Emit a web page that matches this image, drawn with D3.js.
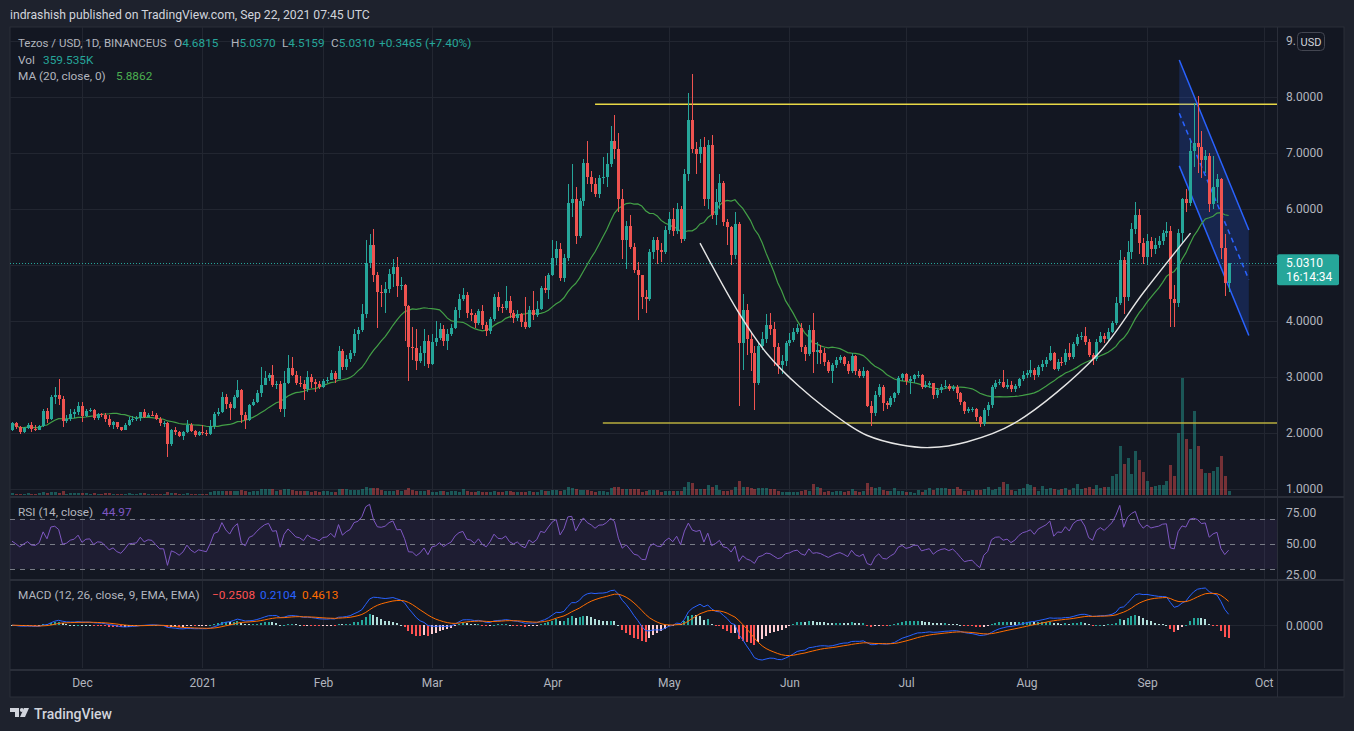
<!DOCTYPE html>
<html><head><meta charset="utf-8">
<script src="https://cdn.jsdelivr.net/npm/d3@7"></script>
<style>
html,body{margin:0;padding:0;background:#1e222d;}
svg{display:block;font-family:Roboto,"Noto Sans",sans-serif;}
</style></head><body><svg id="c" width="1354" height="731"></svg>
<script>
// ---------------- DATA ----------------
const startDate = "2020-11-13"; // first daily candle
const opens = [
2.06,2.17,2.10,2.02,2.09,2.15,2.07,2.06,2.12,2.40,
2.25,2.64,2.67,2.60,2.22,2.25,2.34,2.37,2.49,2.31,
2.40,2.41,2.27,2.34,2.33,2.25,2.15,2.19,2.10,2.06,
2.14,2.24,2.25,2.26,2.37,2.29,2.33,2.32,2.25,2.18,
2.18,1.81,2.06,2.02,1.95,2.01,2.14,2.03,1.97,2.02,
2.00,1.98,2.12,2.34,2.38,2.65,2.52,2.44,2.65,2.77,
2.32,2.24,2.50,2.56,2.72,2.86,2.98,3.04,2.86,2.88,
2.42,2.90,3.16,3.04,2.90,2.87,2.78,3.00,2.91,2.88,
2.82,2.93,2.95,3.07,2.97,3.47,3.17,3.32,3.42,3.77,
3.84,4.12,5.03,5.36,4.82,4.52,4.50,4.58,4.84,4.97,
4.63,4.65,4.26,3.54,3.52,3.29,3.42,3.65,3.24,3.63,
3.69,3.85,3.65,3.77,3.88,4.20,4.39,4.46,4.14,4.10,
3.96,4.17,3.93,3.82,4.04,4.42,4.25,4.23,4.36,4.14,
4.05,4.13,3.98,3.90,4.20,4.10,4.22,4.59,4.55,4.83,
5.13,5.29,4.76,5.13,6.11,6.17,5.51,6.15,6.82,6.57,
6.45,6.27,6.56,6.58,6.80,7.22,7.08,6.18,5.45,5.70,
5.33,4.91,4.82,4.43,4.40,5.23,5.45,5.26,5.24,5.63,
5.83,5.61,6.00,5.46,6.62,7.59,7.08,6.98,7.10,6.17,
7.14,5.89,6.12,6.47,5.77,5.67,5.18,5.74,3.60,4.20,
3.67,3.42,2.90,3.55,3.67,3.92,3.85,3.54,3.21,3.29,
3.60,3.66,3.81,3.87,3.54,3.41,3.84,3.45,3.49,3.42,
3.26,3.11,3.21,3.30,3.35,3.24,3.10,3.38,3.10,3.01,
3.10,2.48,2.36,2.68,2.83,2.53,2.50,2.62,2.71,2.98,
3.05,2.92,2.96,3.04,3.04,2.82,2.86,2.89,2.68,2.77,
2.82,2.84,2.78,2.82,2.71,2.56,2.40,2.42,2.43,2.28,
2.16,2.41,2.50,2.82,2.90,2.91,2.83,2.86,2.78,2.84,
2.96,3.04,3.07,3.12,3.04,3.18,3.24,3.30,3.42,3.15,
3.27,3.26,3.43,3.35,3.59,3.71,3.74,3.63,3.39,3.33,
3.63,3.73,3.67,3.81,3.96,4.32,5.09,4.42,5.24,5.64,
5.89,5.40,5.15,5.42,5.28,5.36,5.42,5.57,5.60,4.40,
4.33,5.57,6.17,6.10,7.04,7.17,7.10,6.88,6.95,6.09,
6.39,6.53,5.30,4.6815];
const highs = [
2.20,2.19,2.12,2.11,2.17,2.20,2.14,2.14,2.42,2.45,
2.68,2.83,2.97,2.66,2.33,2.43,2.42,2.55,2.56,2.42,
2.44,2.42,2.36,2.35,2.35,2.33,2.21,2.20,2.11,2.17,
2.28,2.30,2.30,2.38,2.42,2.36,2.40,2.35,2.28,2.21,
2.20,2.08,2.10,2.04,2.03,2.24,2.18,2.05,2.04,2.14,
2.05,2.24,2.38,2.44,2.74,2.70,2.55,2.68,2.95,2.78,
2.38,2.52,2.60,2.76,3.17,3.10,3.08,3.21,2.92,2.92,
3.10,3.39,3.36,3.10,3.02,2.95,3.10,3.06,2.96,2.92,
2.97,3.00,3.12,3.10,3.55,3.50,3.40,3.48,3.85,3.90,
4.31,5.45,5.56,5.64,4.88,4.65,4.70,4.92,5.10,5.15,
4.79,4.66,4.28,3.90,3.85,3.55,3.86,3.75,3.76,4.00,
3.96,3.92,3.85,3.95,4.25,4.49,4.59,4.51,4.22,4.15,
4.22,4.28,3.98,4.08,4.49,4.52,4.30,4.62,4.45,4.20,
4.20,4.15,4.42,4.26,4.53,4.35,4.62,4.80,4.86,5.45,
5.43,5.40,5.20,6.45,6.81,6.40,6.20,6.89,7.21,6.68,
6.55,6.60,6.92,7.00,7.48,7.68,7.35,6.35,5.78,5.90,
5.40,5.05,4.82,4.55,5.28,5.50,5.50,5.40,5.70,5.95,
6.02,6.10,6.05,6.72,8.07,8.41,7.20,7.25,7.28,7.24,
7.32,6.35,6.63,6.50,5.82,5.70,5.95,5.76,4.48,4.30,
3.80,3.55,3.62,3.80,4.12,4.15,3.98,3.60,3.40,3.65,
3.78,3.88,3.95,3.96,3.58,3.93,4.14,3.62,3.58,3.52,
3.30,3.25,3.36,3.40,3.38,3.28,3.42,3.40,3.14,3.18,
3.12,2.58,2.75,2.88,2.85,2.58,2.66,2.74,3.02,3.07,
3.08,3.02,3.06,3.10,3.05,2.92,2.92,2.90,2.80,2.88,
2.94,2.88,2.86,2.85,2.73,2.58,2.46,2.46,2.45,2.30,
2.45,2.55,2.85,2.95,2.96,3.13,2.96,2.92,2.88,2.99,
3.10,3.12,3.30,3.16,3.22,3.30,3.36,3.55,3.45,3.32,
3.35,3.50,3.60,3.63,3.76,3.80,3.90,3.68,3.42,3.67,
3.80,3.78,3.88,4.00,4.42,5.27,5.15,5.42,5.75,6.13,
6.00,5.48,5.55,5.50,5.48,5.52,5.62,5.76,5.70,4.65,
5.65,6.20,6.35,7.23,7.89,8.02,7.40,7.05,7.00,6.95,
6.62,6.55,5.55,5.0370];
const lows = [
2.04,2.07,1.98,2.00,2.07,2.01,2.03,2.05,2.10,2.18,
2.24,2.52,2.50,2.11,2.18,2.22,2.27,2.33,2.20,2.29,
2.37,2.23,2.24,2.28,2.20,2.10,2.08,2.07,2.03,2.05,
2.13,2.20,2.21,2.22,2.27,2.28,2.30,2.23,2.13,2.11,
1.57,1.77,1.97,1.92,1.88,2.00,2.01,1.93,1.94,1.97,
1.94,1.96,2.08,2.30,2.36,2.43,2.24,2.42,2.62,2.18,
2.08,2.22,2.48,2.54,2.64,2.85,2.93,2.82,2.78,2.38,
2.28,2.88,3.02,2.86,2.82,2.59,2.74,2.80,2.74,2.78,
2.80,2.90,2.94,2.90,2.96,3.13,3.12,3.26,3.38,3.66,
3.80,4.05,4.95,4.70,3.87,4.25,4.15,4.50,4.60,4.42,
4.55,3.65,2.92,3.30,3.12,3.25,3.19,3.16,3.22,3.55,
3.66,3.55,3.48,3.74,3.86,4.05,4.35,4.05,4.00,3.88,
3.93,3.85,3.74,3.76,4.00,4.18,4.14,4.20,4.06,3.96,
4.00,3.90,3.85,3.87,4.02,4.08,4.20,4.50,4.40,4.80,
5.00,4.72,4.70,5.08,5.85,5.38,5.48,6.05,6.45,6.30,
6.22,6.20,6.45,6.40,6.75,6.90,5.95,5.10,4.92,5.28,
4.85,4.02,4.22,4.15,4.35,5.10,5.02,5.05,5.20,5.55,
5.52,5.55,5.40,5.42,6.50,7.00,6.62,6.82,6.05,6.00,
5.82,5.72,6.00,5.70,5.35,5.00,5.10,2.49,3.13,3.40,
3.10,2.41,2.85,3.48,3.60,3.75,3.20,3.05,3.05,3.20,
3.55,3.62,3.76,3.45,3.28,3.38,3.07,3.24,3.24,3.20,
3.08,2.90,3.16,3.25,3.20,3.06,3.08,3.03,2.98,2.98,
2.46,2.12,2.30,2.65,2.40,2.42,2.46,2.55,2.68,2.92,
2.85,2.70,2.90,2.98,2.78,2.80,2.80,2.60,2.62,2.72,
2.78,2.75,2.75,2.60,2.50,2.34,2.36,2.38,2.22,2.10,
2.12,2.30,2.45,2.78,2.85,2.80,2.78,2.74,2.74,2.80,
2.92,2.98,3.00,2.95,3.00,3.10,3.18,3.28,3.12,3.10,
3.20,3.22,3.30,3.33,3.55,3.66,3.58,3.35,3.22,3.28,
3.60,3.60,3.64,3.78,3.92,4.28,4.12,4.35,5.10,5.55,
5.20,5.02,5.00,5.15,5.20,5.30,5.35,5.50,3.90,3.90,
4.25,5.40,5.95,6.05,6.75,6.65,6.55,6.65,5.95,6.00,
6.10,5.10,4.45,4.5159];
const closes = [
2.17,2.10,2.02,2.09,2.15,2.07,2.06,2.12,2.40,2.25,
2.64,2.67,2.60,2.22,2.25,2.34,2.37,2.49,2.31,2.40,
2.41,2.27,2.34,2.33,2.25,2.15,2.19,2.10,2.06,2.14,
2.24,2.25,2.26,2.37,2.29,2.33,2.32,2.25,2.18,2.18,
1.81,2.06,2.02,1.95,2.01,2.14,2.03,1.97,2.02,2.00,
1.98,2.12,2.34,2.38,2.65,2.52,2.44,2.65,2.77,2.32,
2.24,2.50,2.56,2.72,2.86,2.98,3.04,2.86,2.88,2.42,
2.90,3.16,3.04,2.90,2.87,2.78,3.00,2.91,2.88,2.82,
2.93,2.95,3.07,2.97,3.47,3.17,3.32,3.42,3.77,3.84,
4.12,5.03,5.36,4.82,4.52,4.50,4.58,4.84,4.97,4.63,
4.65,4.26,3.54,3.52,3.29,3.42,3.65,3.24,3.63,3.69,
3.85,3.65,3.77,3.88,4.20,4.39,4.46,4.14,4.10,3.96,
4.17,3.93,3.82,4.04,4.42,4.25,4.23,4.36,4.14,4.05,
4.13,3.98,3.90,4.20,4.10,4.22,4.59,4.55,4.83,5.13,
5.29,4.76,5.13,6.11,6.17,5.51,6.15,6.82,6.57,6.45,
6.27,6.56,6.58,6.80,7.22,7.08,6.18,5.45,5.70,5.33,
4.91,4.82,4.43,4.40,5.23,5.45,5.26,5.24,5.63,5.83,
5.61,6.00,5.46,6.62,7.59,7.08,6.98,7.10,6.17,7.14,
5.89,6.12,6.47,5.77,5.67,5.18,5.74,3.60,4.20,3.67,
3.42,2.90,3.55,3.67,3.92,3.85,3.54,3.21,3.29,3.60,
3.66,3.81,3.87,3.54,3.41,3.84,3.45,3.49,3.42,3.26,
3.11,3.21,3.30,3.35,3.24,3.10,3.38,3.10,3.01,3.10,
2.48,2.36,2.68,2.83,2.53,2.50,2.62,2.71,2.98,3.05,
2.92,2.96,3.04,3.04,2.82,2.86,2.89,2.68,2.77,2.82,
2.84,2.78,2.82,2.71,2.56,2.40,2.42,2.43,2.28,2.16,
2.41,2.50,2.82,2.90,2.91,2.83,2.86,2.78,2.84,2.96,
3.04,3.07,3.12,3.04,3.18,3.24,3.30,3.42,3.15,3.27,
3.26,3.43,3.35,3.59,3.71,3.74,3.63,3.39,3.33,3.63,
3.73,3.67,3.81,3.96,4.32,5.09,4.42,5.24,5.64,5.89,
5.40,5.15,5.42,5.28,5.36,5.42,5.57,5.60,4.40,4.33,
5.57,6.17,6.10,7.04,7.17,7.10,6.88,6.95,6.09,6.39,
6.53,5.30,4.68,5.031];
// volume, thousands
const volumes = [
180,90,90,90,180,90,90,180,270,180,
270,270,180,360,90,180,180,180,180,180,
90,180,90,90,180,180,90,90,90,90,
180,90,90,180,180,90,90,90,90,90,
270,180,180,90,90,180,90,90,90,90,
90,270,360,360,360,360,360,360,360,450,
360,270,360,360,540,540,540,540,360,450,
540,540,450,360,360,360,360,270,360,270,
360,360,270,270,540,540,540,450,450,450,
540,720,630,630,630,450,360,360,360,450,
360,450,630,450,360,360,360,450,270,270,
360,360,270,360,360,270,540,360,270,270,
360,270,270,270,360,270,270,360,360,270,
270,270,270,360,270,270,450,360,360,450,
450,360,450,720,630,540,450,450,450,360,
270,360,360,270,630,720,720,540,540,540,
540,540,270,360,450,450,450,270,360,360,
360,360,360,720,1170,1080,540,540,540,900,
720,900,450,360,360,450,720,1260,720,720,
630,540,630,630,630,540,540,360,270,270,
270,270,270,360,450,360,990,720,630,270,
360,270,360,360,270,360,540,360,270,360,
1080,720,630,720,450,360,360,630,360,360,
270,270,180,450,270,450,630,450,630,630,
630,540,540,720,540,360,360,450,450,450,
540,720,450,540,720,1170,990,450,360,540,
630,990,900,720,360,810,540,630,540,450,
540,630,450,630,990,540,630,720,540,900,
630,720,720,1710,1890,4410,2790,3330,1890,3960,
3150,2070,1260,720,810,900,900,1260,2700,1710,
5580,10530,5040,4140,7560,4410,2340,1980,1980,2160,
2520,3510,1710,360];
const priceTicks = [1,2,3,4,5,6,7,8];
const rsiTicks = [25,50,75];
const macdTicks = [0];
const monthTicks = ["2020-12-01","2021-01-01","2021-02-01","2021-03-01","2021-04-01","2021-05-01","2021-06-01","2021-07-01","2021-08-01","2021-09-01","2021-10-01"];
const monthLabels = ["Dec","2021","Feb","Mar","Apr","May","Jun","Jul","Aug","Sep","Oct"];
// drawings: [day index from start, price]
const cupCurve = [[177,5.39],[187.3,4.11],[194.2,3.42],[202.7,2.82],[214.7,2.17],[219.9,1.96],[228.5,1.79],[236.2,1.74],[245.6,1.84],[258,2.18],[279.1,3.39],[291,4.50],[303.2,5.57]];
const channelTop = [[300.3,8.66],[318.2,5.625]];
const channelMid = [[300.3,7.71],[318.2,4.74]];
const channelBot = [[300.3,6.77],[318.2,3.74]];
const resistance = {from:150, price:7.87};
const support = {from:152, price:2.18};
const lastPrice = 5.031;

// ---------------- LAYOUT ----------------
const W=1354,H=731, L=10, R=1277, AX=1344;
const mainT=27, mainB=495, rsiT=497, rsiB=578, macdT=580, macdB=668, timeB=697;
const UP="#26a69a", DN="#ef5350", TXT="#b2b5be", GRID="#222631", SEP="#2a2e39";

const parse=d3.utcParse("%Y-%m-%d");
const t0=parse(startDate);
const x=d3.scaleUtc().domain([t0,d3.utcDay.offset(t0,300)]).range([12,12+300*3.887]);
const xi=i=>x(new Date(+t0+i*864e5));
const y=d3.scaleLinear().domain([1,8]).range([489,97]);
const yV=d3.scaleLinear().domain([0,d3.max(volumes)]).range([mainB,378]);
const yR=d3.scaleLinear().domain([25,75]).range([575,513]);

// indicators (computed from closes)
const ma=closes.map((c,i)=>d3.mean(closes.slice(Math.max(0,i-19),i+1)));
function ema(a,n){const k=2/(n+1);let e=a[0];return a.map((v,i)=>i===0?e:(e=v*k+e*(1-k)));}
const e12=ema(closes,12), e26=ema(closes,26);
const macd=closes.map((c,i)=>e12[i]-e26[i]);
const sig=ema(macd,9);
const hist=macd.map((m,i)=>m-sig[i]);
const rsi=(()=>{const ch=closes.map((c,i)=>i?c-closes[i-1]:0);
  let ag=d3.mean(ch.slice(1,15),d=>Math.max(d,0)), al=d3.mean(ch.slice(1,15),d=>Math.max(-d,0));
  return closes.map((c,i)=>{ if(i>0){ag=(ag*13+Math.max(ch[i],0))/14; al=(al*13+Math.max(-ch[i],0))/14;} return 100-100/(1+ag/al); });})();
const yM=d3.scaleLinear().domain(d3.extent(macd.concat(sig,hist))).range([660,588]);

const svg=d3.select("#c");
svg.append("rect").attr("width",W).attr("height",H).attr("fill","#1e222d");
svg.append("rect").attr("x",L).attr("y",mainT).attr("width",AX-L).attr("height",timeB-mainT).attr("fill","#131722").attr("stroke",SEP);
const defs=svg.append("defs");
function clip(id,y0,y1){defs.append("clipPath").attr("id",id).append("rect").attr("x",L).attr("y",y0).attr("width",R-L).attr("height",y1-y0);}
clip("cm",mainT,mainB);clip("cr",rsiT,rsiB);clip("cd",macdT,macdB);

// grid
const g=svg.append("g").attr("shape-rendering","crispEdges");
monthTicks.forEach(d=>{const xx=Math.round(x(parse(d)))+0.5;g.append("line").attr("x1",xx).attr("x2",xx).attr("y1",mainT).attr("y2",macdB).attr("stroke",GRID);});
[...priceTicks,9].forEach(v=>{const yy=Math.round(y(v))+0.5;g.append("line").attr("x1",L).attr("x2",R).attr("y1",yy).attr("y2",yy).attr("stroke",GRID);});
g.append("line").attr("x1",L).attr("x2",R).attr("y1",Math.round(yM(0))+0.5).attr("y2",Math.round(yM(0))+0.5).attr("stroke",GRID);
// separators
[mainB+1,rsiB+1,macdB+1].forEach(yy=>g.append("line").attr("x1",L).attr("x2",AX).attr("y1",yy+0.5).attr("y2",yy+0.5).attr("stroke",SEP).attr("stroke-width",2));
g.append("line").attr("x1",R+0.5).attr("x2",R+0.5).attr("y1",mainT).attr("y2",timeB).attr("stroke",SEP);

// ---------- main pane ----------
const m=svg.append("g").attr("clip-path","url(#cm)");
// volume
m.append("g").attr("shape-rendering","crispEdges").selectAll("rect").data(volumes).join("rect")
 .attr("x",(d,i)=>Math.round(xi(i))-1).attr("width",3)
 .attr("y",d=>yV(d)).attr("height",d=>mainB-yV(d))
 .attr("fill",(d,i)=>closes[i]>=opens[i]?UP:DN).attr("opacity",0.45);
// horizontal levels
m.append("line").attr("x1",xi(resistance.from)).attr("x2",R).attr("y1",y(resistance.price)).attr("y2",y(resistance.price)).attr("stroke","#e8d846").attr("stroke-width",1.5);
m.append("line").attr("x1",xi(support.from)).attr("x2",R).attr("y1",y(support.price)).attr("y2",y(support.price)).attr("stroke","#b9ae3e").attr("stroke-width",1.5);
// current price line
m.append("line").attr("x1",L).attr("x2",R).attr("y1",Math.round(y(lastPrice))+0.5).attr("y2",Math.round(y(lastPrice))+0.5).attr("stroke",UP).attr("stroke-dasharray","1,2");
// channel
const cp=p=>[xi(p[0]),y(p[1])];
m.append("path").attr("d",d3.line()([cp(channelTop[0]),cp(channelTop[1]),cp(channelBot[1]),cp(channelBot[0])])+"Z").attr("fill","#2962ff").attr("opacity",0.2);
[[channelTop,null],[channelMid,"5,4"],[channelBot,null]].forEach(([c,dash])=>{
  m.append("line").attr("x1",cp(c[0])[0]).attr("y1",cp(c[0])[1]).attr("x2",cp(c[1])[0]).attr("y2",cp(c[1])[1]).attr("stroke","#2962ff").attr("stroke-width",1.5).attr("stroke-dasharray",dash);
});
// MA
m.append("path").datum(ma).attr("fill","none").attr("stroke","#43a047").attr("stroke-width",1.2)
 .attr("d",d3.line().x((d,i)=>xi(i)).y(d=>y(d)));
// candles
const cg=m.append("g").attr("shape-rendering","crispEdges");
closes.forEach((c,i)=>{
  const cx=Math.round(xi(i)), col=c>=opens[i]?UP:DN;
  cg.append("rect").attr("x",cx).attr("width",1).attr("y",y(highs[i])).attr("height",Math.max(1,y(lows[i])-y(highs[i]))).attr("fill",col);
  const top=y(Math.max(c,opens[i])), bot=y(Math.min(c,opens[i]));
  cg.append("rect").attr("x",cx-1).attr("width",3).attr("y",top).attr("height",Math.max(1,bot-top)).attr("fill",col);
});
// cup curve
m.append("path").datum(cupCurve).attr("fill","none").attr("stroke","#e6e6e6").attr("stroke-width",1.4)
 .attr("d",d3.line().x(d=>xi(d[0])).y(d=>y(d[1])).curve(d3.curveCatmullRom.alpha(0.5)));

// ---------- RSI pane ----------
const r=svg.append("g").attr("clip-path","url(#cr)");
r.append("rect").attr("x",L).attr("width",R-L).attr("y",yR(70)).attr("height",yR(30)-yR(70)).attr("fill","#7e57c2").attr("opacity",0.1);
[70,50,30].forEach(v=>r.append("line").attr("x1",L).attr("x2",R).attr("y1",Math.round(yR(v))+0.5).attr("y2",Math.round(yR(v))+0.5).attr("stroke","#787b86").attr("stroke-dasharray","5,5").attr("shape-rendering","crispEdges"));
r.append("path").datum(rsi).attr("fill","none").attr("stroke","#7e57c2").attr("stroke-width",1)
 .attr("d",d3.line().x((d,i)=>xi(i)).y(d=>yR(d)));

// ---------- MACD pane ----------
const md=svg.append("g").attr("clip-path","url(#cd)");
md.append("g").attr("shape-rendering","crispEdges").selectAll("rect").data(hist).join("rect")
 .attr("x",(d,i)=>Math.round(xi(i))-1).attr("width",2)
 .attr("y",d=>Math.min(yM(d),yM(0))).attr("height",d=>Math.max(1,Math.abs(yM(d)-yM(0))))
 .attr("fill",(d,i)=>{const p=i?hist[i-1]:d; return d>=0?(d>p?"#26a69a":"#b2dfdb"):(d>p?"#ffcdd2":"#ff5252");});
md.append("path").datum(macd).attr("fill","none").attr("stroke","#2962ff").attr("stroke-width",1).attr("d",d3.line().x((d,i)=>xi(i)).y(d=>yM(d)));
md.append("path").datum(sig).attr("fill","none").attr("stroke","#ff6d00").attr("stroke-width",1).attr("d",d3.line().x((d,i)=>xi(i)).y(d=>yM(d)));

// ---------- axes ----------
function styleAxis(sel){sel.select(".domain").remove();sel.selectAll("line").remove();sel.selectAll("text").attr("fill",TXT).style("font-size","12px").style("font-family","Roboto,sans-serif");}
svg.append("g").attr("transform",`translate(${R},0)`).call(d3.axisRight(y).tickValues(priceTicks).tickFormat(d3.format(".4f")).tickSize(0).tickPadding(9)).call(styleAxis);
svg.append("g").attr("transform",`translate(${R},0)`).call(d3.axisRight(yR).tickValues(rsiTicks).tickFormat(d3.format(".2f")).tickSize(0).tickPadding(9)).call(styleAxis);
svg.append("g").attr("transform",`translate(${R},0)`).call(d3.axisRight(yM).tickValues(macdTicks).tickFormat(d3.format(".4f")).tickSize(0).tickPadding(9)).call(styleAxis);
svg.append("g").attr("transform",`translate(0,${macdB})`).call(d3.axisBottom(x).tickValues(monthTicks.map(parse)).tickFormat((d,i)=>monthLabels[i]).tickSize(0).tickPadding(10)).call(styleAxis);
// 9 label + USD badge
svg.append("text").attr("x",R+9).attr("y",y(9)).attr("dy","0.32em").attr("fill",TXT).style("font-size","12px").text("9.");
svg.append("rect").attr("x",1297.5).attr("y",32.5).attr("width",27).attr("height",18).attr("rx",4).attr("fill","#131722").attr("stroke","#434651");
svg.append("text").attr("x",1311).attr("y",42).attr("dy","0.35em").attr("text-anchor","middle").attr("fill","#d1d4dc").style("font-size","11px").text("USD");
// last price label
svg.append("rect").attr("x",R).attr("y",y(lastPrice)-9).attr("width",62).attr("height",31).attr("rx",2).attr("fill",UP);
svg.append("text").attr("x",R+9).attr("y",y(lastPrice)).attr("dy","0.35em").attr("fill","#fff").style("font-size","12px").text(d3.format(".4f")(lastPrice));
svg.append("text").attr("x",R+9).attr("y",y(lastPrice)+14).attr("dy","0.35em").attr("fill","#fff").style("font-size","12px").text("16:14:34");

// ---------- texts ----------
function t(xx,yy,parts,size){const e=svg.append("text").attr("x",xx).attr("y",yy).style("font-size",(size||11.8)+"px");parts.forEach(([s,c])=>e.append("tspan").attr("fill",c).text(s));return e;}
t(10,19,[["indrashish published on TradingView.com, Sep 22, 2021 07:45 UTC","#d1d4dc"]],12.2);
t(18,47,[["Tezos / USD, 1D, BINANCEUS",TXT]],11.5);
t(174,47,[["O",TXT],["4.6815",UP]]);
t(231,47,[["H",TXT],["5.0370",UP]]);
t(282,47,[["L",TXT],["4.5159",UP]]);
t(331,47,[["C",TXT],["5.0310",UP]]);
t(379,47,[["+0.3465 (+7.40%)",UP]]);
t(18,64,[["Vol",TXT]]); t(43,64,[["359.535K",UP]]);
t(18,80,[["MA (20, close, 0)",TXT]]); t(116,80,[["5.8862","#4caf50"]]);
t(18,516,[["RSI (14, close)",TXT]]); t(102,516,[["44.97","#7e57c2"]]);
t(18,599,[["MACD (12, 26, close, 9, EMA, EMA)",TXT]]);
t(212,599,[["−0.2508","#ff5252"]]); t(260,599,[["0.2104","#2962ff"]]); t(302,599,[["0.4613","#ff6d00"]]);
// TradingView logo
const lg=svg.append("g").attr("fill","#d1d4dc");
lg.append("path").attr("d","M10,708h9v9h-4v-5h-5z");
lg.append("circle").attr("cx",21.8).attr("cy",710).attr("r",1.9);
lg.append("path").attr("d","M24,708h5l-4,9h-5z");
t(34,719,[["TradingView","#d1d4dc"]],14).style("font-weight","500");
</script></body></html>
